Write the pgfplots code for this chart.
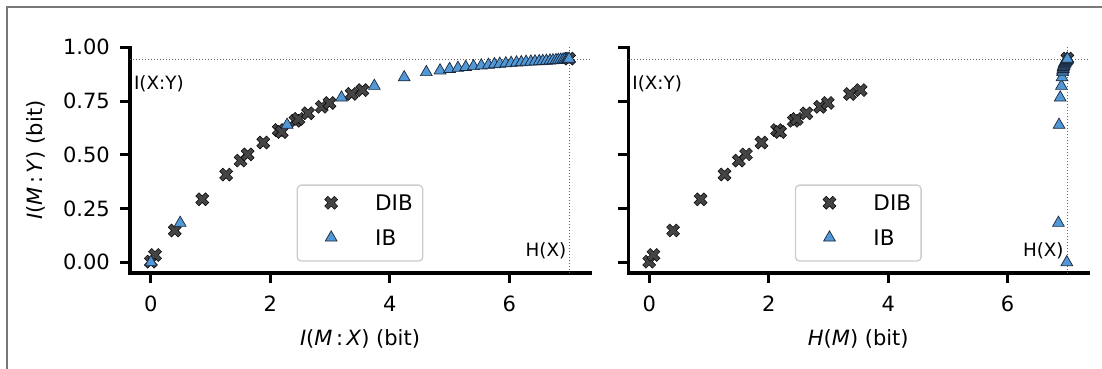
\documentclass[border=0pt]{standalone}
\usepackage{pgfplots}
\pgfplotsset{compat=1.18}
\usepackage{pgfplotstable}
\usepackage{fontspec}
\setmainfont{DejaVu Sans}
\definecolor{dibfill}{RGB}{68,68,68}
\definecolor{ibfill}{RGB}{82,152,214}
\definecolor{ibedge}{RGB}{25,40,60}
\definecolor{framegray}{RGB}{120,120,120}
\definecolor{dotgray}{RGB}{100,100,100}

\pgfdeclareplotmark{Xf}{%
  \pgftransformrotate{45}%
  \pgfpathmoveto{\pgfpoint{-1*\pgfplotmarksize}{-0.3333*\pgfplotmarksize}}%
  \pgfpathlineto{\pgfpoint{-1*\pgfplotmarksize}{0.3333*\pgfplotmarksize}}%
  \pgfpathlineto{\pgfpoint{-0.3333*\pgfplotmarksize}{0.3333*\pgfplotmarksize}}%
  \pgfpathlineto{\pgfpoint{-0.3333*\pgfplotmarksize}{1*\pgfplotmarksize}}%
  \pgfpathlineto{\pgfpoint{0.3333*\pgfplotmarksize}{1*\pgfplotmarksize}}%
  \pgfpathlineto{\pgfpoint{0.3333*\pgfplotmarksize}{0.3333*\pgfplotmarksize}}%
  \pgfpathlineto{\pgfpoint{1*\pgfplotmarksize}{0.3333*\pgfplotmarksize}}%
  \pgfpathlineto{\pgfpoint{1*\pgfplotmarksize}{-0.3333*\pgfplotmarksize}}%
  \pgfpathlineto{\pgfpoint{0.3333*\pgfplotmarksize}{-0.3333*\pgfplotmarksize}}%
  \pgfpathlineto{\pgfpoint{0.3333*\pgfplotmarksize}{-1*\pgfplotmarksize}}%
  \pgfpathlineto{\pgfpoint{-0.3333*\pgfplotmarksize}{-1*\pgfplotmarksize}}%
  \pgfpathlineto{\pgfpoint{-0.3333*\pgfplotmarksize}{-0.3333*\pgfplotmarksize}}%
  \pgfpathclose
  \pgfusepathqfillstroke
}

\pgfplotstableread{
x y
0.00 0.003
0.07 0.034
0.40 0.148
0.86 0.293
1.26 0.408
1.50 0.473
1.62 0.502
1.88 0.557
2.14 0.615
2.19 0.606
2.42 0.658
2.47 0.667
2.63 0.693
2.86 0.723
2.99 0.741
3.36 0.783
3.54 0.801
7.00 0.947
}\dibdata

\pgfplotstableread{
x y
0.00 0.000
0.49 0.183
2.28 0.639
3.19 0.766
3.74 0.820
4.24 0.860
4.61 0.884
4.84 0.892
5.00 0.899
5.14 0.904
5.27 0.908
5.40 0.912
5.53 0.915
5.65 0.918
5.75 0.921
5.84 0.923
5.94 0.925
6.03 0.927
6.12 0.929
6.20 0.930
6.28 0.932
6.36 0.933
6.43 0.934
6.50 0.935
6.56 0.936
6.62 0.937
6.68 0.938
6.73 0.939
6.78 0.940
6.82 0.941
6.86 0.942
6.90 0.943
6.93 0.943
6.96 0.944
6.98 0.945
7.00 0.946
}\ibleft

\pgfplotstableread{
x y
6.99 0.000
6.85 0.183
6.86 0.639
6.88 0.766
6.90 0.820
6.91 0.860
6.92 0.884
6.92 0.892
6.93 0.899
6.93 0.904
6.93 0.908
6.94 0.912
6.94 0.915
6.94 0.918
6.95 0.921
6.95 0.923
6.95 0.925
6.96 0.927
6.96 0.929
6.96 0.930
6.97 0.932
6.97 0.933
6.97 0.934
6.97 0.935
6.98 0.936
6.98 0.937
6.98 0.938
6.98 0.939
6.99 0.940
6.99 0.941
6.99 0.942
6.99 0.943
6.99 0.943
7.00 0.944
7.00 0.945
7.00 0.946
}\ibright

\tikzset{
  refline/.style={dotgray, line width=1pt, dash pattern=on 1.1pt off 1.9pt},
  annot/.style={font=\fontsize{18.3}{22}\selectfont, inner sep=0pt},
}

\pgfplotsset{
  myaxis/.style={
    scale only axis, width=460pt, height=225.75pt,
    anchor=south west,
    xmin=-0.35, xmax=7.35, ymin=-0.05, ymax=1.0,
    axis lines=left,
    axis line style={-, line width=3.4pt, line cap=rect},
    tick align=outside,
    major tick length=10pt,
    tick style={line width=3pt, black},
    xtick={0,2,4,6},
    ytick={0,0.25,0.5,0.75,1},
    /pgf/number format/assume math mode=true,
    ticklabel style={font=\fontsize{21}{25}\selectfont, inner sep=0pt},
    xticklabel style={anchor=base, yshift=-28.7pt},
    yticklabel style={anchor=east, xshift=-10pt,
      /pgf/number format/.cd, fixed, fixed zerofill, precision=2},
    label style={font=\fontsize{21}{25}\selectfont},
    xlabel style={at={(axis description cs:0.5,-0.29)}, anchor=center},
    ylabel style={at={(axis description cs:-0.204,0.5)}, anchor=center, rotate=0},
    legend cell align=left,
    legend style={at={(axis description cs:0.5,0.0503)}, anchor=south,
      draw=black!20, line width=1.3pt, rounded corners=4pt, fill=white,
      inner xsep=10pt, inner ysep=9.8pt, row sep=13.4pt,
      font=\fontsize{21.5}{26}\selectfont,
      nodes={inner sep=0pt, text height=15.7pt, text depth=0pt}},
    legend image code/.code={%
      \path[draw=none, fill=none] (-24pt,-13.6pt) rectangle (44pt,0pt);
      \draw[##1] plot coordinates {(0pt,0pt)};},
  },
  dibstyle/.style={only marks, mark=Xf, mark size=6.9pt,
    mark options={fill=dibfill, draw=black, line width=0.5pt}},
  ibstyle/.style={only marks, mark=triangle*, mark size=6.8pt,
    mark options={fill=ibfill, draw=ibedge, line width=0.7pt}},
}

\begin{document}
\begin{tikzpicture}[x=1pt,y=1pt]
\useasboundingbox (0,0) rectangle (1102,369);
\draw[framegray, line width=1.2pt] (7,-20) -- (7,362) -- (1130,362);

\begin{axis}[myaxis, at={(130pt,95.95pt)},
  xlabel={\textit{I}(\textit{M}\,:\,\textit{X}) (bit)},
  ylabel={\textit{I}(\textit{M}\,:\,\textit{Y}) (bit)}]
  \draw[refline] (axis cs:-0.35,0.945) -- (axis cs:7.35,0.945);
  \draw[refline] (axis cs:7,-0.05) -- (axis cs:7,1.0);
  \node[annot, anchor=base west] at (axis cs:-0.285,0.806) {I(X:Y)};
  \node[annot, anchor=base east] at (axis cs:6.955,0.027) {H(X)};
  \addplot[dibstyle] table[x=x,y=y] {\dibdata};
  \addlegendentry{DIB}
  \addplot[ibstyle] table[x=x,y=y] {\ibleft};
  \addlegendentry{IB}
\end{axis}

\begin{axis}[myaxis, at={(628.3pt,95.95pt)},
  yticklabels={},
  xlabel={\textit{H}(\textit{M}) (bit)}]
  \draw[refline] (axis cs:-0.35,0.945) -- (axis cs:7.35,0.945);
  \draw[refline] (axis cs:7,-0.05) -- (axis cs:7,1.0);
  \node[annot, anchor=base west] at (axis cs:-0.285,0.806) {I(X:Y)};
  \node[annot, anchor=base east] at (axis cs:6.94,0.027) {H(X)};
  \addplot[dibstyle] table[x=x,y=y] {\dibdata};
  \addlegendentry{DIB}
  \addplot[ibstyle] table[x=x,y=y] {\ibright};
  \addlegendentry{IB}
\end{axis}
\end{tikzpicture}
\end{document}
